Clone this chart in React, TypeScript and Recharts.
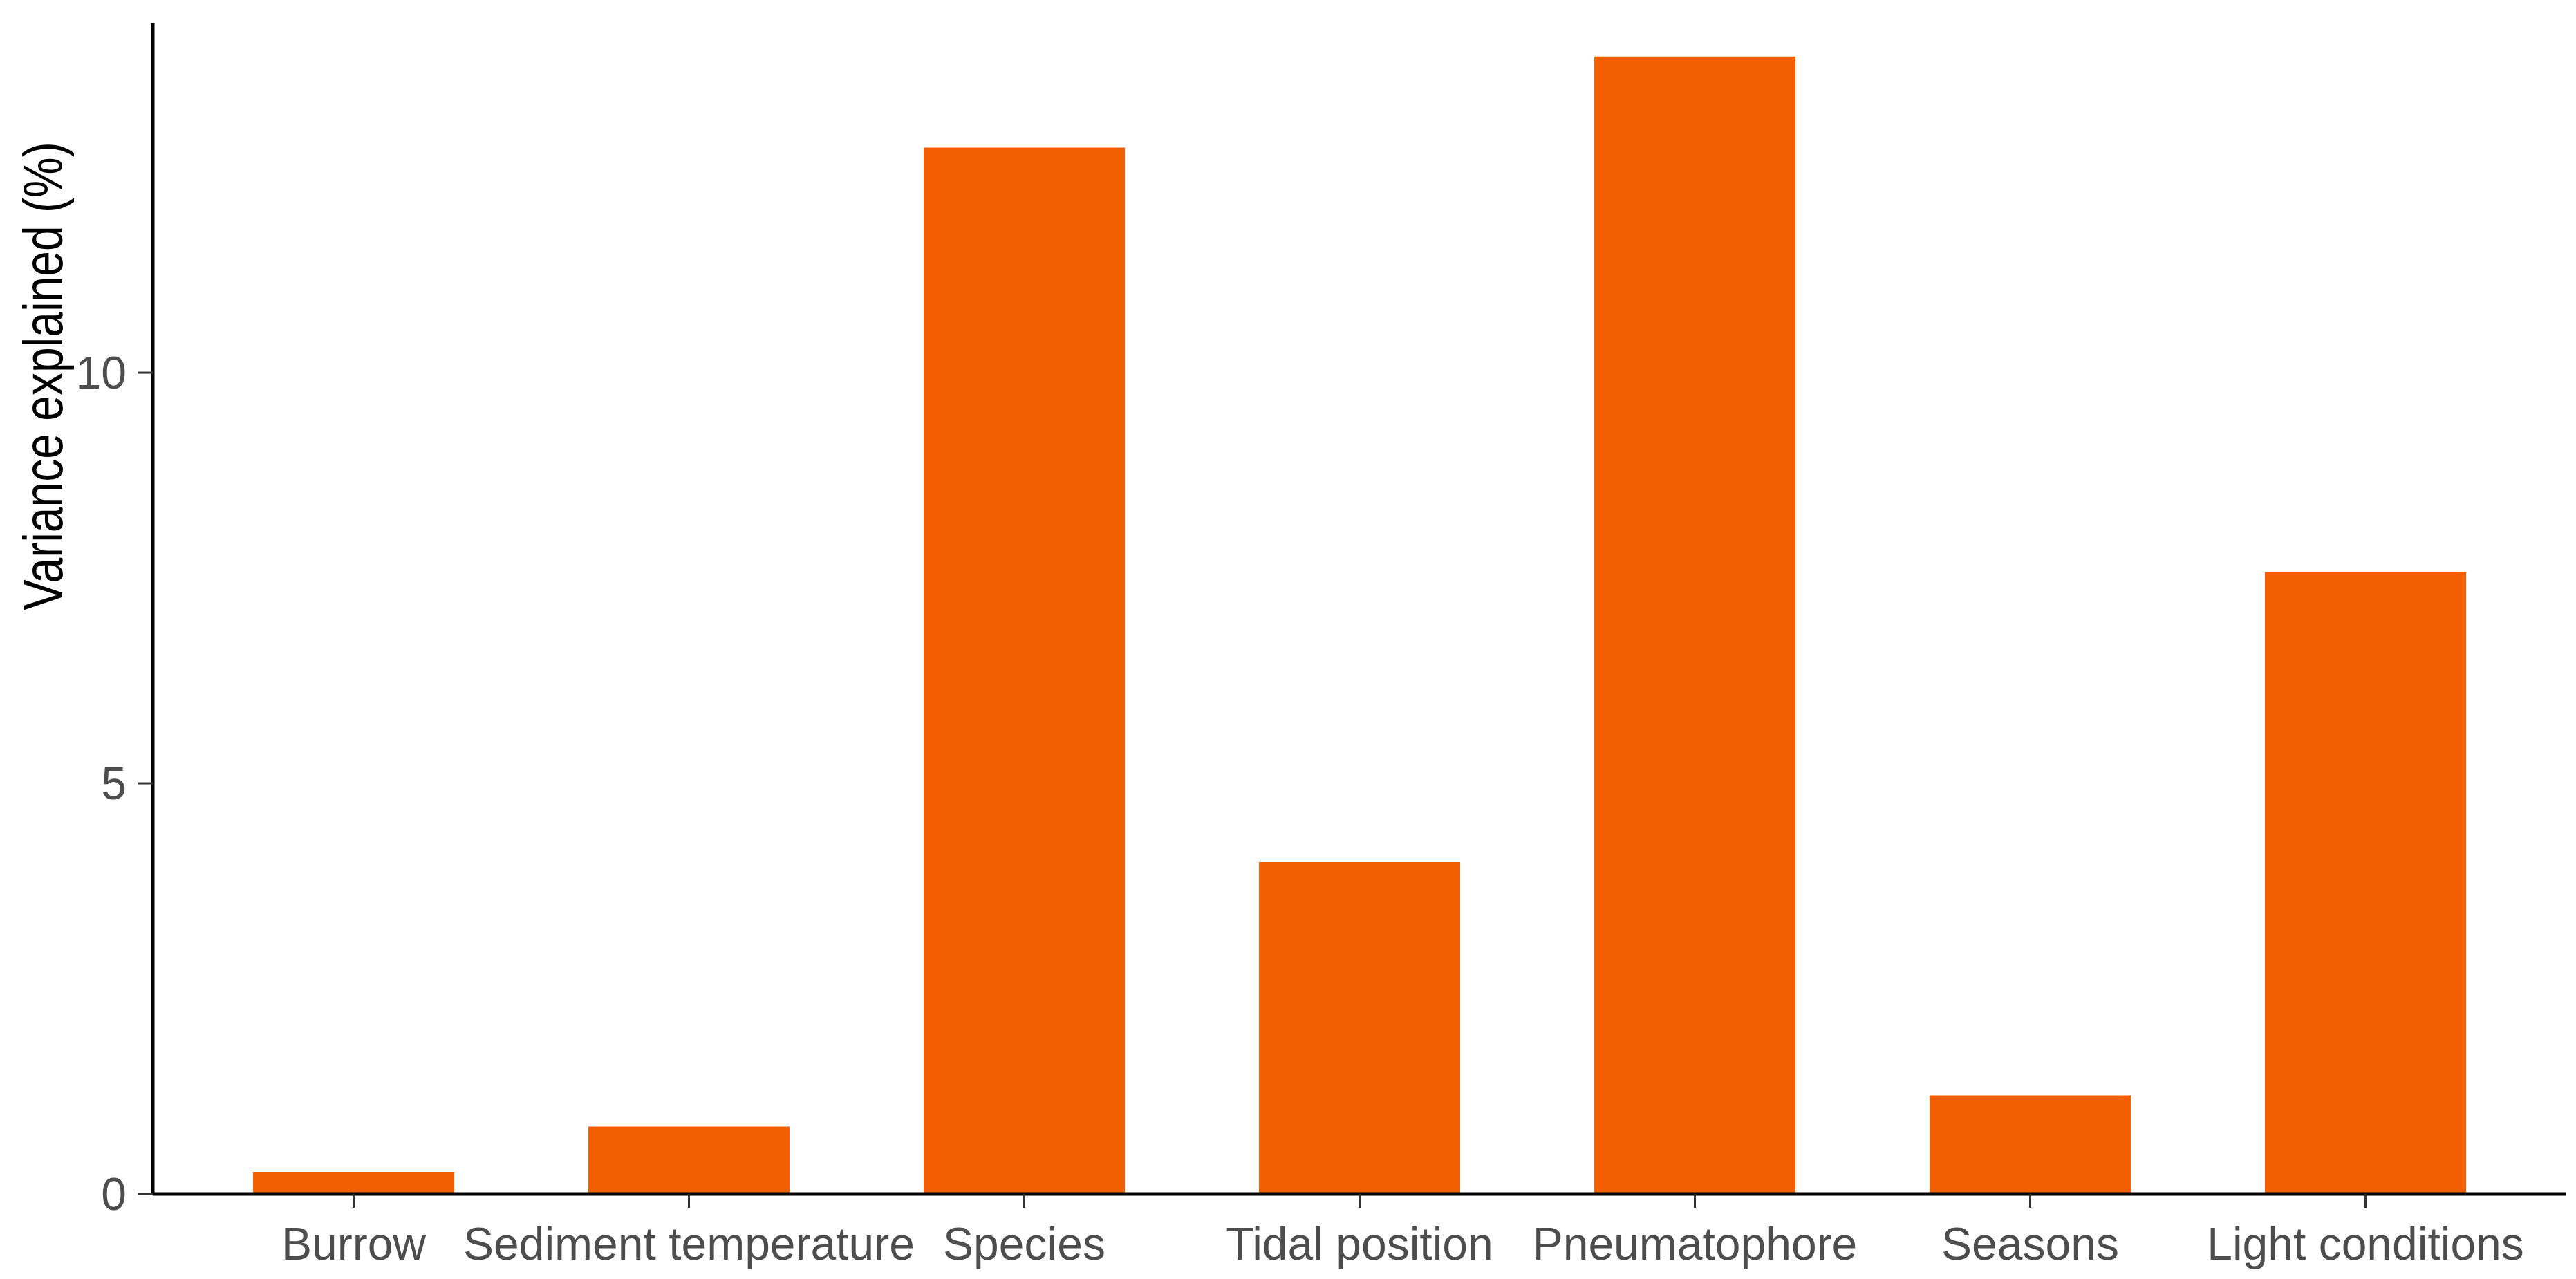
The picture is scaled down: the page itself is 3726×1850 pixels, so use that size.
import React from 'react';
import { BarChart, Bar, XAxis, YAxis, Label } from 'recharts';

// Variance explained by each factor (%)
const factors = [
  'Burrow',
  'Sediment temperature',
  'Species',
  'Tidal position',
  'Pneumatophore',
  'Seasons',
  'Light conditions',
];
const varianceExplained = [0.27, 0.82, 12.74, 4.04, 13.85, 1.2, 7.57];
const yTicks = [0, 5, 10];

const data = factors.map((factor, i) => ({ factor, variance: varianceExplained[i] }));

const FONT = '"Liberation Sans", Arial, sans-serif';
const BAR_COLOR = '#F25E00';
const Y_AXIS_W = 221;
const Y_TICK = 22;
const Y_TICK_GAP = 16;

// rotated axis title; glyphs a bit taller than wide, as in the source figure
const YTitle = () => (
  <text
    transform="translate(90, 544) rotate(-90) scale(1, 1.2)"
    textAnchor="middle"
    fontFamily={FONT}
    fontSize={66}
    fill="#000"
  >
    Variance explained (%)
  </text>
);

// tick label placed right next to the tick mark, like ggplot
const YTickLabel = (props: any) => {
  const { y, payload } = props;
  return (
    <text
      x={Y_AXIS_W - Y_TICK - Y_TICK_GAP}
      y={y}
      textAnchor="end"
      dominantBaseline="central"
      fontFamily={FONT}
      fontSize={66}
      fill="#4d4d4d"
    >
      {payload.value}
    </text>
  );
};

export default function App() {
  return (
    <div style={{ width: 3726, height: 1850, background: '#fff' }}>
      <style>{`body { margin: 0; }`}</style>
      <BarChart
        width={3726}
        height={1850}
        data={data}
        margin={{ top: 33, right: 14, left: 0, bottom: 0 }}
        barCategoryGap="20%"
      >
        <XAxis
          dataKey="factor"
          height={123}
          padding={{ left: 48, right: 48 }}
          axisLine={{ stroke: '#000', strokeWidth: 5 }}
          tickLine={{ stroke: '#333', strokeWidth: 3 }}
          tickSize={20}
          tickMargin={28}
          interval={0}
          tick={{ fill: '#4d4d4d', fontSize: 66, fontFamily: FONT }}
        />
        <YAxis
          width={Y_AXIS_W}
          domain={[0, 14.26]}
          ticks={yTicks}
          allowDataOverflow
          axisLine={{ stroke: '#000', strokeWidth: 5 }}
          tickLine={{ stroke: '#333', strokeWidth: 3 }}
          tickSize={Y_TICK}
          tick={<YTickLabel />}
        >
          <Label content={<YTitle />} />
        </YAxis>
        <Bar dataKey="variance" fill={BAR_COLOR} isAnimationActive={false} />
      </BarChart>
    </div>
  );
}
